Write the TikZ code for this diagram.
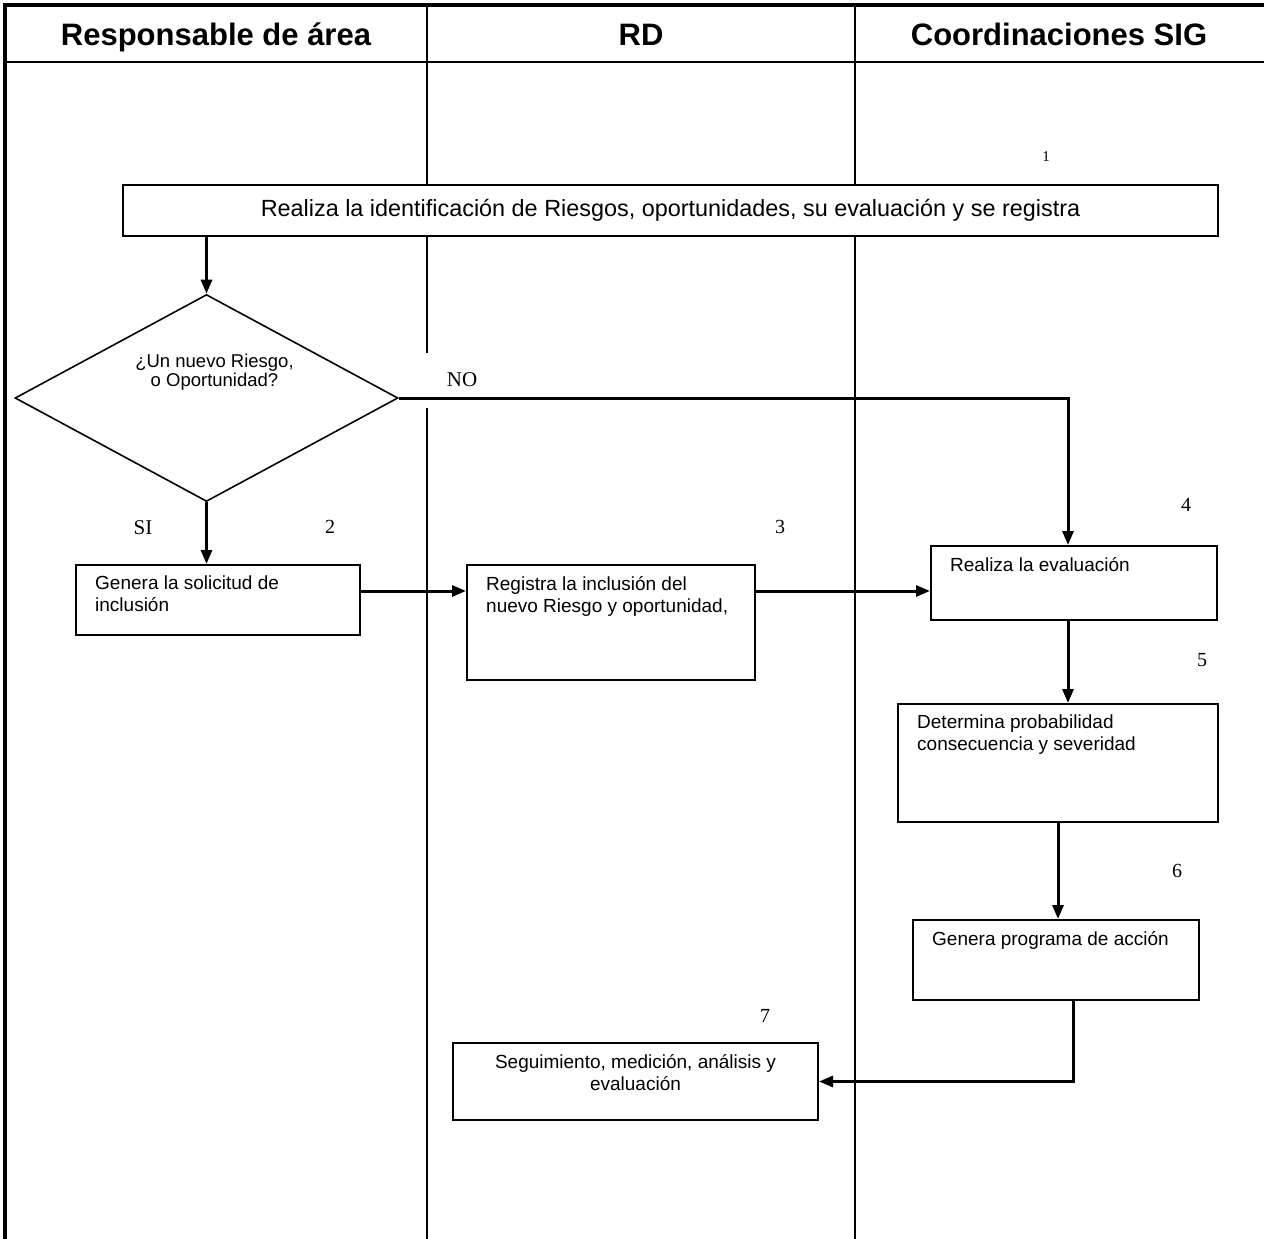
\documentclass[tikz,border=0pt]{standalone}
\usepackage{fontspec}
\setmainfont{Liberation Sans}
\newfontfamily\numfont{Liberation Serif}
\usetikzlibrary{arrows.meta,shapes.geometric}

\begin{document}
\begin{tikzpicture}[x=1pt,y=-1pt,>={Triangle[length=14pt,width=11pt]},
  lane line/.style={line width=1.8pt},
  frame line/.style={line width=4.5pt},
  step box/.style={draw,fill=white,line width=2pt,inner sep=0pt},
  step text/.style={label={[anchor=north west,align=left,inner sep=0pt,xshift=20pt,yshift=-12pt,font=\fontsize{19}{22}\selectfont]north west:{#1}}},
  decision node/.style={diamond,draw,line width=1.6pt,inner sep=0pt},
  flow/.style={->,line width=3pt},
  head/.style={anchor=base,font=\fontsize{31}{34}\selectfont\bfseries},
  num label/.style={font=\numfont\fontsize{20}{22}\selectfont},
  answer label/.style={font=\numfont\fontsize{21}{24}\selectfont}]

\useasboundingbox (0,0) rectangle (1264,1239);

% swimlanes
\draw[frame line] (5,1239) -- (5,5) -- (1264,5);
\draw[line width=2.5pt] (5,62) -- (1264,62);
\draw[lane line] (427,5) -- (427,1239);
\draw[lane line] (855,5) -- (855,1239);

\node[head] (h1) at (216,46) {Responsable de área};
\node[head] (h2) at (641,46) {RD};
\node[head] (h3) at (1059,46) {Coordinaciones SIG};

% steps
\node[step box,minimum width=1095pt,minimum height=51pt,font=\fontsize{23.4}{26}\selectfont] (s1) at (670.5,210.5) {Realiza la identificación de Riesgos, oportunidades, su evaluación y se registra};
\node[decision node,minimum width=383pt,minimum height=207pt,
  label={[align=center,font=\fontsize{18.5}{19}\selectfont,xshift=8pt,yshift=26pt]center:{¿Un nuevo Riesgo,\\o Oportunidad?}}] (q) at (206.5,398) {};
\node[step box,minimum width=284pt,minimum height=70pt,step text={Genera la solicitud de\\inclusión}] (s2) at (218,600) {};
\node[step box,minimum width=288pt,minimum height=115pt,step text={Registra la inclusión del\\nuevo Riesgo y oportunidad,}] (s3) at (611,622.5) {};
\node[step box,minimum width=286pt,minimum height=74pt,step text={Realiza la evaluación}] (s4) at (1074,583) {};
\node[step box,minimum width=320pt,minimum height=118pt,step text={Determina probabilidad\\consecuencia y severidad}] (s5) at (1058,763) {};
\node[step box,minimum width=286pt,minimum height=80pt,step text={Genera programa de acción}] (s6) at (1056,960) {};
\node[step box,minimum width=365pt,minimum height=77pt,
  label={[anchor=north,align=center,inner sep=0pt,yshift=-12pt,font=\fontsize{19}{22}\selectfont]north:{Seguimiento, medición, análisis y\\evaluación}}] (s7) at (635.5,1081.5) {};

% numbers and answers
\node[num label,font=\numfont\fontsize{15}{16}\selectfont] (n1) at (1046,157) {1};
\node[num label] (n2) at (330,527) {2};
\node[num label] (n3) at (780,527) {3};
\node[num label] (n4) at (1186,505) {4};
\node[num label] (n5) at (1202,660) {5};
\node[num label] (n6) at (1177,871) {6};
\node[num label] (n7) at (765,1016) {7};
\node[answer label,fill=white,minimum width=74pt,minimum height=55pt] (no) at (462,380) {NO};
\node[answer label] (si) at (143,528) {SI};

% connectors
\draw[flow] (s1.south -| q.north) -- (q.north);
\draw[flow] (q.east) -| ([xshift=-6pt]s4.north);
\draw[flow] (q.south) -- (q.south |- s2.north);
\coordinate (r) at ([yshift=9pt]s2.east);
\draw[flow] (r) -- (r -| s3.west);
\draw[flow] (r -| s3.east) -- (r -| s4.west);
\draw[flow] ([xshift=-6pt]s4.south) -- ([xshift=-6pt]s4.south |- s5.north);
\draw[flow] (s5.south) -- (s5.south |- s6.north);
\draw[flow] ([xshift=17pt]s6.south) |- (s7.east);
\end{tikzpicture}
\end{document}
